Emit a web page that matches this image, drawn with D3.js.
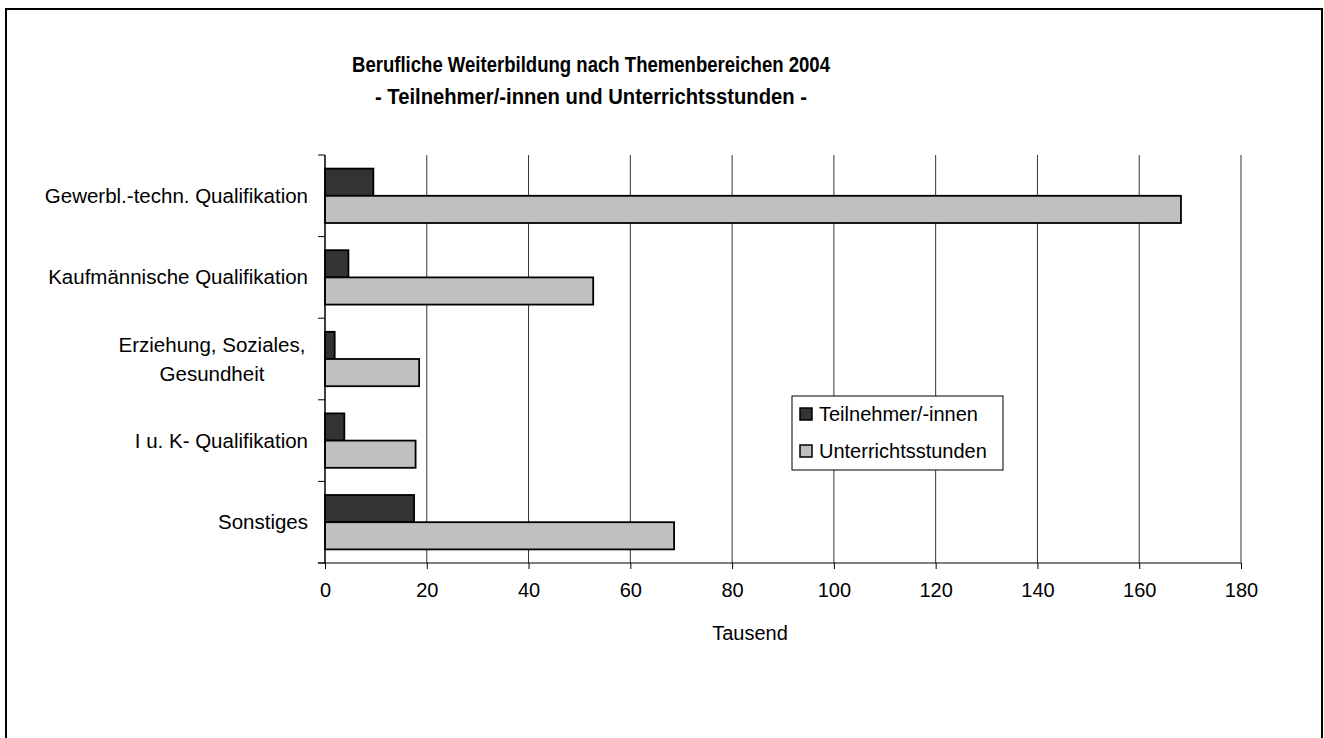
<!DOCTYPE html>
<html><head><meta charset="utf-8">
<script src="https://cdn.jsdelivr.net/npm/d3@7"></script>
<style>
html,body{margin:0;padding:0;background:#fff;}
svg{display:block;font-family:"Liberation Sans",Arial,sans-serif;}
</style></head>
<body>
<svg id="c" width="1324" height="738"></svg>
<script>
const categories = ["Gewerbl.-techn. Qualifikation","Kaufmännische Qualifikation","Erziehung, Soziales, Gesundheit","I u. K- Qualifikation","Sonstiges"];
const categoryLines = [["Gewerbl.-techn. Qualifikation"],["Kaufmännische Qualifikation"],["Erziehung, Soziales,","Gesundheit"],["I u. K- Qualifikation"],["Sonstiges"]];
const seriesNames = ["Teilnehmer/-innen","Unterrichtsstunden"];
const teilnehmer = [9.5, 4.6, 1.9, 3.8, 17.5];
const unterrichtsstunden = [168.2, 52.7, 18.5, 17.8, 68.6];
const xTicks = [0,20,40,60,80,100,120,140,160,180];
const colors = ["#333333","#c0c0c0"];

const svg = d3.select("#c");
svg.append("rect").attr("x",6).attr("y",9).attr("width",1316).attr("height",760)
  .attr("fill","#fff").attr("stroke","#000").attr("stroke-width",2);

const L=325, R=1241, T=155, B=563;
const x = d3.scaleLinear().domain([0,180]).range([L,R]);
const y = d3.scaleBand().domain(categories).range([T,B]).padding(0);
const ys = d3.scaleBand().domain(seriesNames).range([0,y.bandwidth()]).paddingInner(0).paddingOuter(0.5);

// title
svg.append("text").attr("x",591).attr("y",72).attr("text-anchor","middle")
  .attr("font-size",22).attr("font-weight","bold").attr("textLength",478).attr("lengthAdjust","spacingAndGlyphs")
  .text("Berufliche Weiterbildung nach Themenbereichen 2004");
svg.append("text").attr("x",591).attr("y",104).attr("text-anchor","middle")
  .attr("font-size",22).attr("font-weight","bold").attr("textLength",432).attr("lengthAdjust","spacingAndGlyphs")
  .text("- Teilnehmer/-innen und Unterrichtsstunden -");

// gridlines
svg.append("g").selectAll("line").data(xTicks.slice(1)).join("line")
  .attr("x1",d=>x(d)).attr("x2",d=>x(d)).attr("y1",T).attr("y2",B)
  .attr("stroke","#333").attr("stroke-width",1);

// x axis
const xa = svg.append("g").attr("transform",`translate(0,${B})`)
  .call(d3.axisBottom(x).tickValues(xTicks).tickSize(6).tickPadding(14).tickSizeOuter(0));
xa.select(".domain").remove();
xa.selectAll(".tick line").attr("stroke","#000");
xa.selectAll(".tick text").attr("font-size",20).attr("fill","#000").attr("font-family","Liberation Sans, Arial, sans-serif");
svg.append("line").attr("x1",318).attr("x2",R).attr("y1",B).attr("y2",B).attr("stroke","#000");

svg.append("text").attr("x",750).attr("y",640).attr("text-anchor","middle").attr("font-size",20).text("Tausend");

// bars
const data = categories.map((c,i)=>({c, vals:[teilnehmer[i], unterrichtsstunden[i]]}));
const grp = svg.append("g").selectAll("g").data(data).join("g")
  .attr("transform",d=>`translate(0,${y(d.c)})`);
grp.selectAll("rect").data(d=>d.vals.map((v,j)=>({v,s:seriesNames[j],j}))).join("rect")
  .attr("x",x(0)).attr("y",d=>ys(d.s)).attr("width",d=>x(d.v)-x(0)).attr("height",ys.bandwidth())
  .attr("fill",d=>colors[d.j]).attr("stroke","#000").attr("stroke-width",1.8);

// y axis
svg.append("line").attr("x1",L).attr("x2",L).attr("y1",T).attr("y2",B).attr("stroke","#000").attr("stroke-width",1.5);
const bounds = categories.map(c=>y(c)).concat([B]);
svg.append("g").selectAll("line").data(bounds).join("line")
  .attr("x1",318).attr("x2",L).attr("y1",d=>d).attr("y2",d=>d).attr("stroke","#000");

// category labels
categoryLines.forEach((lines,i)=>{
  const cy = y(categories[i]) + y.bandwidth()/2 + 7;
  const t = svg.append("text").attr("text-anchor", lines.length>1 ? "middle":"end").attr("font-size",20.5);
  const xpos = lines.length>1 ? 212 : 308;
  lines.forEach((ln,k)=>{
    t.append("tspan").attr("x",xpos).attr("y",cy + (k-(lines.length-1)/2)*29).text(ln);
  });
});

// legend
const lg = svg.append("g");
lg.append("rect").attr("x",792).attr("y",396).attr("width",211).attr("height",74).attr("fill","#fff").attr("stroke","#000");
seriesNames.forEach((s,i)=>{
  const yy = 408 + i*37;
  lg.append("rect").attr("x",800).attr("y",yy).attr("width",12).attr("height",12).attr("fill",colors[i]).attr("stroke","#000").attr("stroke-width",1.5);
  lg.append("text").attr("x",819).attr("y",yy+13).attr("font-size",20).text(s);
});
</script>
</body></html>
